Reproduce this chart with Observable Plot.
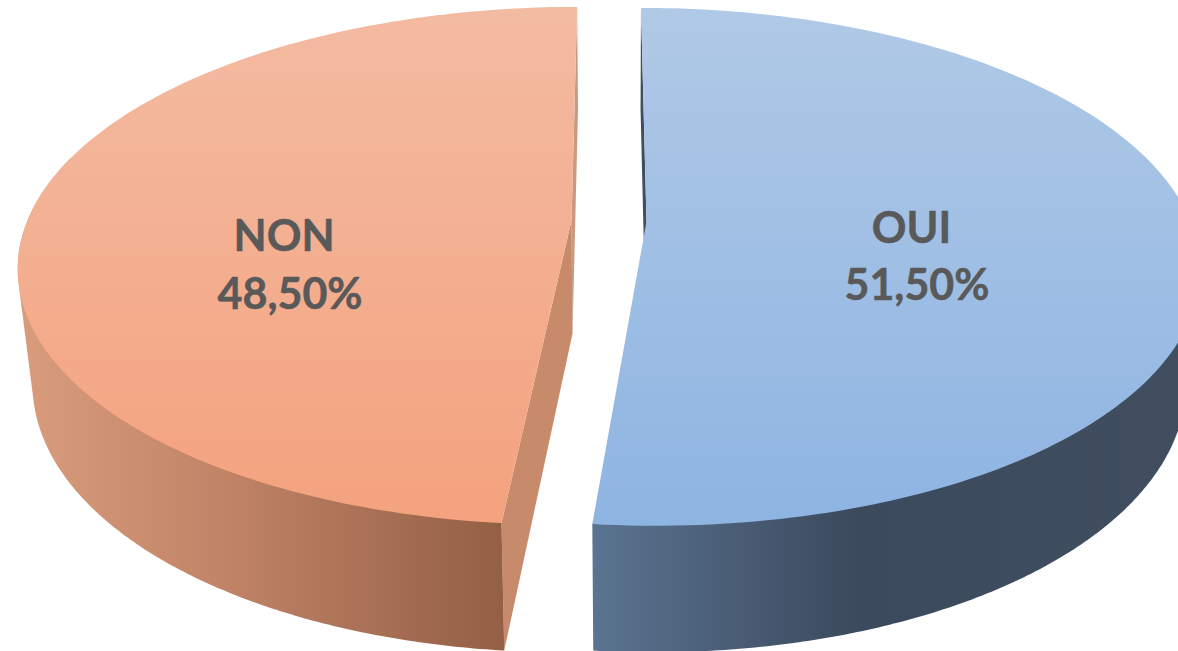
<!DOCTYPE html>
<html>
<head>
<meta charset="utf-8">
<script src="https://cdn.jsdelivr.net/npm/d3@7"></script>
<script src="https://cdn.jsdelivr.net/npm/@observablehq/plot@0.6"></script>
<style>
html,body{margin:0;padding:0;background:#fff;overflow:hidden}
</style>
</head>
<body>
<div id="chart"></div>
<script>
const categories = ["OUI", "NON"];
const shares = [51.5, 48.5];
const rimSteps = 180;

// view of the tilted disc (layout only)
const view = {vx: 609, k: 0.175, A: 544, B: 251, topY: [221, 220], botY: [333, 333], botB: 263, botS: 0.975,
              topOff: [37, -38], botOff: [36.5, -37]};
const nameShift = [{dx: -8, dy: 2}, {dx: -17, dy: 23}];
const valueShift = [{dx: -2.5, dy: 59}, {dx: -11, dy: 81}];

function project(i, deg, r, bottom) {
  const t = deg * Math.PI / 180;
  const X = r * Math.sin(t), Y = r * Math.cos(t), w = 1 + view.k * Y;
  return bottom
    ? {x: view.vx + (view.botOff[i] + view.A * view.botS * X) / w, y: view.botY[i] - view.botB * Y / w}
    : {x: view.vx + (view.topOff[i] + view.A * X) / w, y: view.topY[i] - view.B * Y / w};
}
const total = d3.sum(shares);
const spans = [];
shares.reduce((a, v, i) => { const b = a + v / total * 360; spans[i] = [a, b]; return b; }, 0);
const arc = (i, a, b, r, bottom) => d3.range(rimSteps + 1).map(s => project(i, a + (b - a) * s / rimSteps, r, bottom));
const hull = pts => d3.polygonHull(pts.map(p => [p.x, p.y])).map(([x, y]) => ({x, y}));

const slices = categories.map((name, i) => {
  const [a, b] = spans[i];
  const first = i === 0;
  const wallA = first ? 85 : a, wallB = first ? b : 285;
  return {
    name,
    top: [project(i, 0, 0, false), ...arc(i, a, b, 1, false)],
    wall: hull([...arc(i, wallA, wallB, 1, false), ...arc(i, wallA, wallB, 1, true)]),
    back: [project(i, 0, 1, false), project(i, 0, 0, false), project(i, 0, 0, true), project(i, 0, 1, true)],
    front: [project(i, 0, 0, false), project(i, spans[0][1], 1, false), project(i, spans[0][1], 1, true), project(i, 0, 0, true)]
  };
});

const gradient = (id, vertical, stops) => {
  const g = d3.create("svg:linearGradient").attr("id", id)
    .attr("x1", 0).attr("y1", 0).attr("x2", vertical ? 0 : 1).attr("y2", vertical ? 1 : 0);
  stops.forEach(([o, c]) => g.append("stop").attr("offset", o).attr("stop-color", c));
  return g.node();
};
const defs = () => {
  const d = d3.create("svg:defs");
  d.node().append(
    gradient("topOui", true, [[0, "#b0c9e6"], [1, "#8eb4e2"]]),
    gradient("topNon", true, [[0, "#f3bba2"], [1, "#f4a27e"]]),
    gradient("wallOui", false, [[0, "#5a7491"], [0.21, "#4b5f78"], [0.44, "#3b4a5c"], [1, "#404e60"]]),
    gradient("wallNon", false, [[0, "#d99c7c"], [0.45, "#bf8266"], [1, "#935f45"]])
  );
  return d.node();
};
const poly = (pts, fill) => Plot.line(pts, {x: "x", y: "y", fill, stroke: "none", curve: "linear"});

const textStyle = {x: "x", y: "y", text: "text", fill: "#595959", stroke: "#595959", strokeWidth: 0.5,
                   fontSize: 43, fontWeight: 700, fontFamily: "Lato", textAnchor: "middle"};
const labelMarks = categories.flatMap((name, i) => {
  const mid = project(i, (spans[i][0] + spans[i][1]) / 2, 0.5, false);
  const value = `${shares[i].toFixed(2).replace(".", ",")}%`;
  return [
    Plot.text([{...mid, text: name}], {...textStyle, ...nameShift[i]}),
    Plot.text([{...mid, text: value}], {...textStyle, ...valueShift[i]})
  ];
});

const chart = Plot.plot({
  width: 1178, height: 651,
  marginTop: 0, marginRight: 0, marginBottom: 0, marginLeft: 0,
  x: {type: "identity", axis: null},
  y: {type: "identity", axis: null},
  style: {overflow: "hidden", background: "#fff"},
  marks: [
    defs,
    poly(slices[1].back, "#c99a80"),
    poly(slices[1].front, "#c78a6b"),
    poly(slices[1].wall, "url(#wallNon)"),
    poly(slices[1].top, "url(#topNon)"),
    poly(slices[0].back, "#3f4f62"),
    poly(slices[0].wall, "url(#wallOui)"),
    poly(slices[0].top, "url(#topOui)"),
    ...labelMarks
  ]
});
document.getElementById("chart").append(chart);
</script>
</body>
</html>
